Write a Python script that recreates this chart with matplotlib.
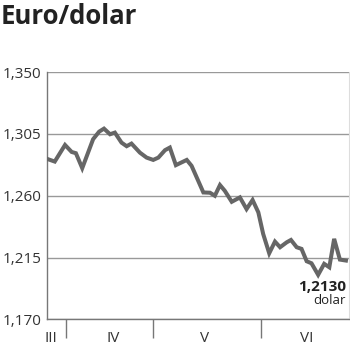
import matplotlib.pyplot as plt

# kurs euro/dolar (dni od polowy marca)
dni = [0.4, 2.6, 6.0, 8.2, 9.6, 11.7, 15.3, 17.3, 18.9, 20.9, 22.5, 24.7,
       26.4, 28.0, 30.8, 33.0, 35.2, 36.9, 39.1, 40.7, 42.7, 46.3, 47.9,
       51.8, 54.0, 55.6, 57.3, 58.9, 61.2, 63.9, 66.1, 68.1, 70.0, 71.6,
       73.6, 75.5, 77.2, 79.4, 80.8, 82.7, 84.3, 86.0, 87.6, 89.8, 91.8,
       93.5, 95.1, 97.0, 99.0]
kurs = [1.2866, 1.2849, 1.2970, 1.2919, 1.2910, 1.2801, 1.3012, 1.3067,
        1.3089, 1.3048, 1.3060, 1.2987, 1.2961, 1.2980, 1.2914, 1.2878,
        1.2861, 1.2878, 1.2932, 1.2951, 1.2823, 1.2861, 1.2818,
        1.2624, 1.2622, 1.2600, 1.2678, 1.2636, 1.2556, 1.2588, 1.2503,
        1.2569, 1.2479, 1.2322, 1.2181, 1.2266, 1.2225, 1.2261, 1.2278,
        1.2225, 1.2213, 1.2123, 1.2108, 1.2024, 1.2104, 1.2079, 1.2286,
        1.2135, 1.2128]

granice_miesiecy = [6.3, 35.0, 70.9]
miesiace = ["III", "IV", "V", "VI"]
srodki_miesiecy = [1.3, 21.9, 52.3, 86.0]
poziomy = [1.170, 1.215, 1.260, 1.305, 1.350]
etykiety_y = ["1,170", "1,215", "1,260", "1,305", "1,350"]
ostatni = "1,2130"

plt.rcParams['font.family'] = ['Open Sans', 'DejaVu Sans']

fig = plt.figure(figsize=(3.5, 3.51), dpi=100)
ax = fig.add_axes([0.134, 0.0903, 0.863, 0.704])

ax.plot(dni, kurs, color='#666666', linewidth=2.9, solid_joinstyle='miter',
        zorder=3)

ax.set_xlim(0, 100)
ax.set_ylim(1.170, 1.350)

ax.set_yticks(poziomy)
ax.set_yticklabels(etykiety_y)
ax.yaxis.grid(True, color='#999999', linewidth=1)
ax.tick_params(axis='y', length=0, pad=4, labelsize=11, labelcolor='#333333')

ax.set_xticks(granice_miesiecy)
ax.set_xticklabels([])
ax.tick_params(axis='x', which='major', length=14, width=1, color='#777777',
               direction='out')
ax.set_xticks(srodki_miesiecy, minor=True)
ax.set_xticklabels(miesiace, minor=True)
ax.tick_params(axis='x', which='minor', length=0, pad=8.5, labelsize=11,
               labelcolor='#333333')

for s in ['left', 'bottom']:
    ax.spines[s].set_color('#777777')
    ax.spines[s].set_linewidth(1)
ax.spines['top'].set_visible(False)
ax.spines['right'].set_color('#dddddd')
ax.set_axisbelow(True)

ax.text(0.99, 0.13, ostatni, transform=ax.transAxes, ha='right', va='center',
        fontsize=11, fontweight='bold', color='#222222')
ax.text(0.99, 0.075, "dolar", transform=ax.transAxes, ha='right',
        va='center', fontsize=9.5, color='#222222')

fig.text(0.003, 0.952, "Euro/dolar", ha='left', va='center', fontsize=18.5,
         fontweight='bold', color='#222222')

fig.savefig("out.png", dpi=100)
